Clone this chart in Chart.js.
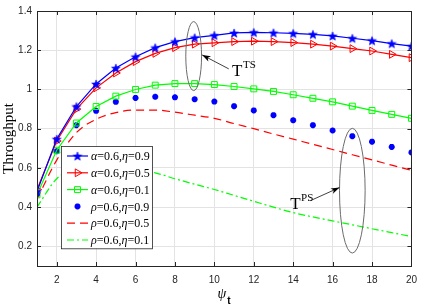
<!DOCTYPE html>
<html>
<head>
<meta charset="utf-8">
<script src="https://cdn.jsdelivr.net/npm/chart.js@4"></script>
<style>
  html, body { margin: 0; padding: 0; background: #fff; }
  #wrap { width: 425px; height: 306px; }
</style>
</head>
<body>
<div id="wrap"><canvas id="chart" width="425" height="306"></canvas></div>
<script>
// Throughput vs psi_t, TS (alpha) and PS (rho) schemes.
const PSI = [1, 2, 3, 4, 5, 6, 7, 8, 9, 10, 11, 12, 13, 14, 15, 16, 17, 18, 19, 20];

const TS_09 = [0.48, 0.747, 0.913, 1.028, 1.109, 1.167, 1.213, 1.244, 1.264, 1.276, 1.288, 1.291, 1.289, 1.286, 1.281, 1.273, 1.261, 1.249, 1.234, 1.221];
const TS_05 = [0.49, 0.737, 0.90, 1.008, 1.084, 1.142, 1.184, 1.213, 1.231, 1.238, 1.244, 1.246, 1.244, 1.239, 1.231, 1.221, 1.208, 1.196, 1.179, 1.162];
const TS_01 = [0.463, 0.69, 0.829, 0.913, 0.966, 1.0, 1.022, 1.03, 1.03, 1.025, 1.015, 1.003, 0.99, 0.973, 0.955, 0.937, 0.915, 0.893, 0.873, 0.853];
const PS_09 = [0.47, 0.685, 0.818, 0.891, 0.937, 0.957, 0.963, 0.96, 0.95, 0.938, 0.915, 0.893, 0.869, 0.843, 0.818, 0.791, 0.762, 0.734, 0.707, 0.679];
const PS_05 = [0.44, 0.64, 0.78, 0.848, 0.882, 0.895, 0.895, 0.884, 0.869, 0.853, 0.826, 0.80, 0.773, 0.747, 0.72, 0.694, 0.667, 0.641, 0.614, 0.588];
const PS_01 = [0.40, 0.545, 0.595, 0.603, 0.60, 0.593, 0.575, 0.545, 0.517, 0.49, 0.46, 0.43, 0.40, 0.372, 0.35, 0.33, 0.31, 0.29, 0.27, 0.25];

const XTICKS = [2, 4, 6, 8, 10, 12, 14, 16, 18, 20];
const YTICKS = [0.2, 0.4, 0.6, 0.8, 1, 1.2, 1.4];

// legend labels, italic greek at even positions
const LABELS = [['α', '=0.6,', 'η', '=0.9'], ['α', '=0.6,', 'η', '=0.5'], ['α', '=0.6,', 'η', '=0.1'],
                ['ρ', '=0.6,', 'η', '=0.9'], ['ρ', '=0.6,', 'η', '=0.5'], ['ρ', '=0.6,', 'η', '=0.1']];

const BLUE = '#0000ff', RED = '#ff0000', GREEN = '#00ff00', INK = '#262626';
const SERIF = '"Liberation Serif", "Times New Roman", serif';
const SANS = '"Liberation Sans", Arial, sans-serif';

function starMarker(color, ro) {
  const c = document.createElement('canvas');
  const s = Math.ceil(ro * 2 + 2);
  c.width = s; c.height = s;
  const g = c.getContext('2d');
  g.fillStyle = color; g.strokeStyle = color; g.lineWidth = 0.6;
  g.beginPath();
  for (let i = 0; i < 10; i++) {
    const r = i % 2 ? ro * 0.42 : ro;
    const a = -Math.PI / 2 + i * Math.PI / 5;
    const px = s / 2 + r * Math.cos(a), py = s / 2 + r * Math.sin(a) + 0.5;
    i ? g.lineTo(px, py) : g.moveTo(px, py);
  }
  g.closePath(); g.fill(); g.stroke();
  return c;
}
const STAR = starMarker(BLUE, 4.6);

const pts = ys => PSI.map((x, i) => ({ x, y: ys[i] }));

const datasets = [
  { data: pts(TS_09), borderColor: BLUE, borderWidth: 1.2, pointStyle: STAR, pointRadius: 5 },
  { data: pts(TS_05), borderColor: RED, borderWidth: 1.2, pointStyle: 'triangle', pointRotation: 90, pointRadius: 4.5,
    pointBackgroundColor: 'rgba(0,0,0,0)', pointBorderColor: RED, pointBorderWidth: 1 },
  { data: pts(TS_01), borderColor: GREEN, borderWidth: 1.2, pointStyle: 'rect', pointRadius: 4.2,
    pointBackgroundColor: 'rgba(0,0,0,0)', pointBorderColor: GREEN, pointBorderWidth: 1 },
  { data: pts(PS_09), borderColor: BLUE, showLine: false, pointStyle: 'star', pointRadius: 3,
    pointBorderColor: BLUE, pointBorderWidth: 2, pointBackgroundColor: BLUE },
  { data: pts(PS_05), borderColor: RED, borderWidth: 1.2, borderDash: [8, 5], pointRadius: 0, cubicInterpolationMode: 'monotone' },
  { data: pts(PS_01), borderColor: GREEN, borderWidth: 1.2, borderDash: [7, 3, 2, 3], pointRadius: 0, cubicInterpolationMode: 'monotone' },
];
datasets.forEach((d, i) => { d.label = LABELS[i].join(''); d.fill = false; d.tension = 0; });

function ellipse(ctx, xs, ys, cx, cy, rx, ry) {
  const px = xs.getPixelForValue(cx), py = ys.getPixelForValue(cy);
  const rpx = Math.abs(xs.getPixelForValue(cx + rx) - px), rpy = Math.abs(ys.getPixelForValue(cy + ry) - py);
  ctx.beginPath(); ctx.ellipse(px, py, rpx, rpy, 0, 0, Math.PI * 2); ctx.stroke();
}
function arrow(ctx, x0, y0, x1, y1) {
  ctx.beginPath(); ctx.moveTo(x0, y0); ctx.lineTo(x1, y1); ctx.stroke();
  const a = Math.atan2(y1 - y0, x1 - x0), L = 9, W = 0.33;
  ctx.beginPath(); ctx.moveTo(x1, y1);
  ctx.lineTo(x1 - L * Math.cos(a - W), y1 - L * Math.sin(a - W));
  ctx.lineTo(x1 - L * 0.7 * Math.cos(a), y1 - L * 0.7 * Math.sin(a));
  ctx.lineTo(x1 - L * Math.cos(a + W), y1 - L * Math.sin(a + W));
  ctx.closePath(); ctx.fill();
}
function supText(ctx, x, y, base, sup) {
  ctx.font = '17px ' + SERIF;
  ctx.textAlign = 'left'; ctx.textBaseline = 'alphabetic';
  ctx.fillText(base, x, y);
  const w = ctx.measureText(base).width;
  ctx.font = '11px ' + SERIF;
  ctx.fillText(sup, x + w + 0.5, y - 8);
}

const decor = {
  id: 'decor',
  afterDatasetsDraw(chart) {
    const { ctx, chartArea: a, scales: { x, y } } = chart;
    ctx.save();
    // inward ticks + box
    ctx.strokeStyle = INK; ctx.lineWidth = 1;
    ctx.beginPath();
    XTICKS.forEach(v => { const p = Math.round(x.getPixelForValue(v)) + 0.5;
      ctx.moveTo(p, a.bottom); ctx.lineTo(p, a.bottom - 4); ctx.moveTo(p, a.top); ctx.lineTo(p, a.top + 4); });
    YTICKS.forEach(v => { const p = Math.round(y.getPixelForValue(v)) + 0.5;
      ctx.moveTo(a.left, p); ctx.lineTo(a.left + 4, p); ctx.moveTo(a.right, p); ctx.lineTo(a.right - 4, p); });
    ctx.stroke();
    ctx.strokeRect(Math.round(a.left) + 0.5, Math.round(a.top) + 0.5, Math.round(a.right - a.left), Math.round(a.bottom - a.top));

    // annotations
    ctx.strokeStyle = '#6b6b6b'; ctx.lineWidth = 1;
    ellipse(ctx, x, y, 8.95, 1.17, 0.4, 0.176);
    ellipse(ctx, x, y, 17.0, 0.484, 0.65, 0.318);
    ctx.strokeStyle = '#404040'; ctx.fillStyle = '#000';
    arrow(ctx, x.getPixelForValue(10.73), y.getPixelForValue(1.105), x.getPixelForValue(9.38), y.getPixelForValue(1.176));
    arrow(ctx, x.getPixelForValue(14.87), y.getPixelForValue(0.433), x.getPixelForValue(16.35), y.getPixelForValue(0.5));
    supText(ctx, x.getPixelForValue(10.9), y.getPixelForValue(1.069), 'T', 'TS');
    supText(ctx, x.getPixelForValue(13.85), y.getPixelForValue(0.392), 'T', 'PS');

    // legend
    const lx = a.left + 24, ly = 146, lw = 91, rowH = 16.8;
    ctx.fillStyle = '#fff'; ctx.strokeStyle = INK; ctx.lineWidth = 0.8;
    ctx.fillRect(lx, ly, lw, rowH * 6 + 1.5);
    ctx.strokeRect(lx + 0.5, ly + 0.5, lw, rowH * 6 + 1.5);
    chart.data.datasets.forEach((d, i) => {
      const cy = ly + 10 + i * rowH, x0 = lx + 6, x1 = lx + 27, xm = (x0 + x1) / 2;
      ctx.save();
      if (d.showLine !== false) {
        ctx.strokeStyle = d.borderColor; ctx.lineWidth = d.borderWidth;
        ctx.setLineDash(d.borderDash || []);
        ctx.beginPath(); ctx.moveTo(x0, cy); ctx.lineTo(x1, cy); ctx.stroke();
      }
      ctx.setLineDash([]);
      if (d.pointRadius > 0) {
        ctx.fillStyle = d.pointBackgroundColor || d.borderColor;
        ctx.strokeStyle = d.pointBorderColor || d.borderColor;
        ctx.lineWidth = d.pointBorderWidth || 1;
        Chart.helpers.drawPoint(ctx, {
          pointStyle: d.pointStyle, rotation: d.pointRotation || 0, radius: d.pointRadius,
          borderWidth: d.pointBorderWidth || 1,
        }, xm, cy);
      }
      ctx.restore();
      let tx = lx + 30;
      ctx.fillStyle = '#000'; ctx.textBaseline = 'middle'; ctx.textAlign = 'left';
      LABELS[i].forEach((s, k) => {
        ctx.font = (k % 2 === 0 ? 'italic ' : '') + '12px ' + SERIF;
        ctx.fillText(s, tx, cy + 1);
        tx += ctx.measureText(s).width;
      });
    });

    // axis titles
    ctx.fillStyle = '#000';
    ctx.save();
    ctx.translate(9, (a.top + a.bottom) / 2);
    ctx.rotate(-Math.PI / 2);
    ctx.font = '15px ' + SERIF;
    ctx.textAlign = 'center'; ctx.textBaseline = 'middle';
    ctx.fillText('Throughput', 0, 0);
    ctx.restore();
    const cx = (a.left + a.right) / 2;
    ctx.font = 'italic 14px ' + SERIF;
    ctx.textAlign = 'right'; ctx.textBaseline = 'alphabetic';
    ctx.fillText('ψ', cx + 2, 298);
    ctx.font = 'bold 10px ' + SANS;
    ctx.textAlign = 'left';
    ctx.fillText('t', cx + 3, 304);
    ctx.restore();
  },
};

new Chart(document.getElementById('chart').getContext('2d'), {
  type: 'line',
  data: { datasets },
  options: {
    responsive: false, animation: false,
    layout: { padding: { top: 7, right: 7, left: 0, bottom: 0 } },
    plugins: { legend: { display: false }, tooltip: { enabled: false } },
    scales: {
      x: {
        type: 'linear', min: 1, max: 20,
        afterBuildTicks: s => { s.ticks = XTICKS.map(v => ({ value: v })); },
        afterFit: s => { s.height = 40; },
        grid: { color: '#e3e3e3', lineWidth: 1, drawTicks: false },
        border: { display: false },
        ticks: { color: INK, padding: 8, font: { family: SANS, size: 10 }, maxRotation: 0 },
      },
      y: {
        type: 'linear', min: 0.1, max: 1.4,
        afterBuildTicks: s => { s.ticks = YTICKS.map(v => ({ value: v })); },
        afterFit: s => { s.width = 37; },
        grid: { color: '#e3e3e3', lineWidth: 1, drawTicks: false },
        border: { display: false },
        ticks: { color: INK, padding: 5, font: { family: SANS, size: 10 }, callback: v => String(v) },
      },
    },
  },
  plugins: [decor],
});
</script>
</body>
</html>
